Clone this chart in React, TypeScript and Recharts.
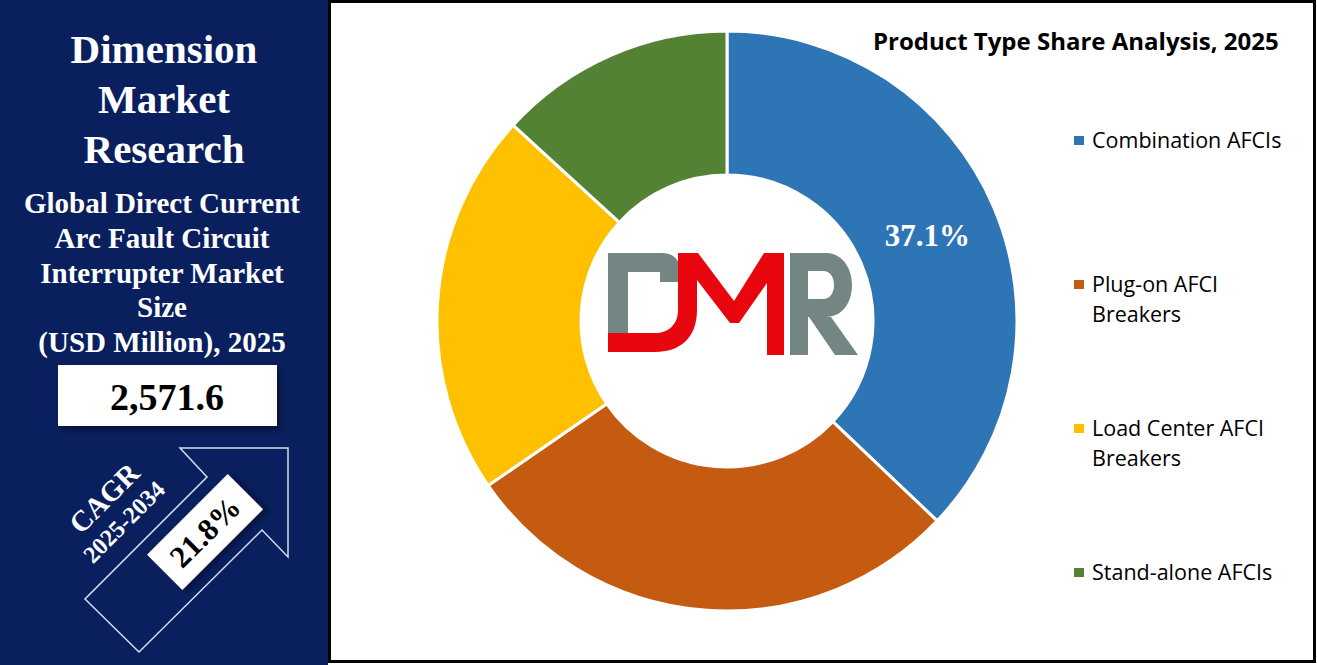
import React from 'react';
import { PieChart, Pie, Cell, Legend } from 'recharts';

const categories = ['Combination AFCIs', 'Plug-on AFCI Breakers', 'Load Center AFCI Breakers', 'Stand-alone AFCIs'];
const shares = [37.1, 28.3, 21.4, 13.2];
const colors = ['#2E75B6', '#C55A11', '#FFC000', '#548235'];
const labelledIndex = [0];

const brandLines = ['Dimension', 'Market', 'Research'];
const subtitleLines = ['Global Direct Current', 'Arc Fault Circuit', 'Interrupter Market', 'Size', '(USD Million), 2025'];
const marketSize = '2,571.6';
const cagrLabel = 'CAGR';
const cagrPeriod = '2025-2034';
const cagrValue = '21.8%';
const chartTitle = 'Product Type Share Analysis, 2025';

const data = categories.map((name, i) => ({ name, value: shares[i] }));

const RAD = Math.PI / 180;
const SERIF = '"Liberation Serif", "Times New Roman", serif';
const SANS = '"Open Sans", Lato, sans-serif';

const renderLabel = (p: any) => {
  if (!labelledIndex.includes(p.index)) return null;
  const r = (p.innerRadius + p.outerRadius) / 2;
  const x = p.cx + r * Math.cos(-p.midAngle * RAD);
  const y = p.cy + r * Math.sin(-p.midAngle * RAD);
  return (
    <text x={x} y={y} fill="#fff" textAnchor="middle" dominantBaseline="central"
      fontFamily={SERIF} fontWeight="bold" fontSize={31}>
      {`${p.value}%`}
    </text>
  );
};

const renderLegend = (props: any) => {
  const payload = [...(props.payload || [])].sort(
    (a: any, b: any) => categories.indexOf(a.value) - categories.indexOf(b.value)
  );
  return (
    <div style={{ fontFamily: SANS, fontSize: 21.5, color: '#000' }}>
      {payload.map((entry: any, i: number) => (
        <div key={i} style={{ position: 'relative', height: 144, paddingLeft: 18, width: 215, lineHeight: '30px' }}>
          <div style={{ position: 'absolute', left: 0, top: 11, width: 10, height: 9, background: entry.color }} />
          {entry.value}
        </div>
      ))}
    </div>
  );
};

function LeftPanel() {
  return (
    <svg width={328} height={665} style={{ position: 'absolute', left: 0, top: 0 }}>
      <defs>
        <filter id="sh" x="-20%" y="-20%" width="140%" height="160%">
          <feDropShadow dx="3" dy="4" stdDeviation="3" floodColor="#000" floodOpacity="0.45" />
        </filter>
      </defs>
      <rect x={0} y={0} width={328} height={665} fill="#0A1F5E" />
      {brandLines.map((t, i) => (
        <text key={t} x={164} y={63 + i * 50} textAnchor="middle" fill="#fff" fontFamily={SERIF} fontWeight="bold" fontSize={41}>{t}</text>
      ))}
      {subtitleLines.map((t, i) => (
        <text key={t} x={162} y={213 + i * 34.8} textAnchor="middle" fill="#fff" fontFamily={SERIF} fontWeight="bold" fontSize={29}>{t}</text>
      ))}
      <rect x={58} y={365} width={219} height={61} fill="#fff" filter="url(#sh)" />
      <text x={167} y={410} textAnchor="middle" fill="#000" fontFamily={SERIF} fontWeight="bold" fontSize={38}>{marketSize}</text>
      <polygon points="180,448 288,448 288,557 262,530 139,652 85,599 207,477"
        fill="none" stroke="#D6DDF0" strokeWidth={1.5} />
      <g transform="translate(205,532) rotate(-45)">
        <rect x={-57} y={-25} width={114} height={50} fill="#fff" filter="url(#sh)" />
        <text x={0} y={0} textAnchor="middle" dominantBaseline="central" fill="#000" fontFamily={SERIF} fontWeight="bold" fontSize={31}>{cagrValue}</text>
      </g>
      <text transform="translate(104,498) rotate(-45)" textAnchor="middle" dominantBaseline="central" fill="#fff" fontFamily={SERIF} fontWeight="bold" fontSize={29}>{cagrLabel}</text>
      <text transform="translate(124,522) rotate(-45)" textAnchor="middle" dominantBaseline="central" fill="#fff" fontFamily={SERIF} fontWeight="bold" fontSize={24}>{cagrPeriod}</text>
    </svg>
  );
}

function Logo() {
  return (
    <svg width={1317} height={665} style={{ position: 'absolute', left: 0, top: 0, pointerEvents: 'none' }}>
      <path d="M608,253 H662 Q679,253 681,272 V282 H660 V272 H628 V333 H608 Z" fill="#748683" />
      <path d="M608,333 H655 C668,333 678,325 678,310 V253 H698 L734,301 L764,253 H784 V355 H767 V283 L739,323 H730 L697,280 V310 C697,338 680,352 655,352 H608 Z" fill="#E8070E" />
      <path d="M790,253 H826 C842,253 852,268 852,285 C852,303 842,317 826,317 H808 V299 H823 C830,299 834,293 834,285 C834,277 830,271 823,271 H808 V355 H790 Z" fill="#748683" />
      <polygon points="809,317 831,317 858,355 835,355" fill="#748683" />
    </svg>
  );
}

export default function App() {
  return (
    <div style={{ position: 'fixed', left: 0, top: 0, width: 1317, height: 665, background: '#fff', overflow: 'hidden' }}>
      <LeftPanel />
      <div style={{ position: 'absolute', left: 328, top: 0, width: 988, height: 663, border: '3px solid #000', boxSizing: 'border-box' }} />
      <div style={{ position: 'absolute', left: 0, top: 0 }}>
        <PieChart width={1317} height={665} margin={{ top: 0, right: 0, bottom: 0, left: 0 }}>
          <Pie data={data} dataKey="value" nameKey="name" cx={727} cy={321} innerRadius={146} outerRadius={290}
            startAngle={90} endAngle={-270} stroke="#fff" strokeWidth={3} isAnimationActive={false}
            label={renderLabel} labelLine={false}>
            {data.map((d, i) => <Cell key={d.name} fill={colors[i]} />)}
          </Pie>
          <Legend content={renderLegend} wrapperStyle={{ position: 'absolute', left: 1074, top: 125, width: 240, height: 500 }} />
        </PieChart>
      </div>
      <Logo />
      <div style={{ position: 'absolute', left: 873, top: 24, fontFamily: SANS, fontWeight: 'bold', fontSize: 24, color: '#000', whiteSpace: 'nowrap' }}>{chartTitle}</div>
    </div>
  );
}
